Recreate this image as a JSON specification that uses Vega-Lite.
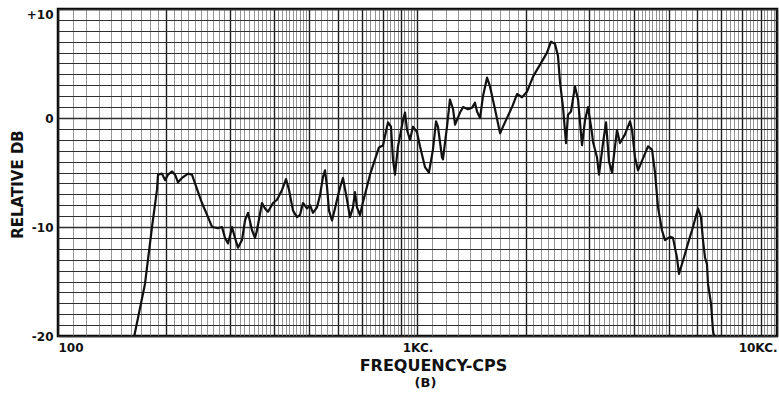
{
  "$schema": "https://vega.github.io/schema/vega-lite/v6.json",
  "width": 719,
  "height": 327,
  "autosize": {"type": "none"},
  "padding": {"left": 58, "top": 9, "right": 2, "bottom": 58},
  "background": "white",
  "config": {"view": {"stroke": "#000", "strokeWidth": 2.5}, "font": "DejaVu Sans"},
  "title": {"text": "(B)", "orient": "bottom", "anchor": "middle", "fontSize": 13, "fontWeight": "bold", "font": "DejaVu Sans", "color": "#111", "dx": 8, "offset": 4},
  "data": {"values": [
    {"f": 163, "db": -20}, {"f": 174.6, "db": -15.2}, {"f": 182.6, "db": -10.0}, {"f": 188.5, "db": -6.6},
    {"f": 189.8, "db": -5.2}, {"f": 194.7, "db": -5.1}, {"f": 198.5, "db": -5.7}, {"f": 202.3, "db": -5.2},
    {"f": 207.6, "db": -4.9}, {"f": 211.6, "db": -5.2}, {"f": 215.7, "db": -5.9}, {"f": 221.3, "db": -5.5},
    {"f": 230.0, "db": -5.1}, {"f": 235.9, "db": -5.2}, {"f": 240.5, "db": -6.0}, {"f": 251.5, "db": -7.8},
    {"f": 261.4, "db": -9.1}, {"f": 268.2, "db": -10.0}, {"f": 278.7, "db": -10.1}, {"f": 285.9, "db": -10.0},
    {"f": 291.4, "db": -11.0}, {"f": 297.1, "db": -11.5}, {"f": 300.9, "db": -10.8}, {"f": 304.8, "db": -10.0},
    {"f": 310.7, "db": -11.0}, {"f": 316.7, "db": -11.9}, {"f": 324.9, "db": -11.2}, {"f": 331.3, "db": -9.4},
    {"f": 337.7, "db": -8.7}, {"f": 346.5, "db": -10.3}, {"f": 353.2, "db": -11.0}, {"f": 357.7, "db": -10.3},
    {"f": 369.4, "db": -7.8}, {"f": 376.6, "db": -8.3}, {"f": 383.8, "db": -8.6}, {"f": 396.3, "db": -7.8},
    {"f": 406.6, "db": -7.5}, {"f": 419.9, "db": -6.6}, {"f": 430.8, "db": -5.6}, {"f": 439.2, "db": -6.6},
    {"f": 450.5, "db": -8.5}, {"f": 462.2, "db": -9.1}, {"f": 471.2, "db": -8.9}, {"f": 480.3, "db": -7.8},
    {"f": 492.7, "db": -8.3}, {"f": 502.3, "db": -8.0}, {"f": 512.0, "db": -8.7}, {"f": 525.3, "db": -8.2},
    {"f": 535.5, "db": -7.1}, {"f": 545.9, "db": -5.4}, {"f": 553.0, "db": -4.8}, {"f": 560.1, "db": -6.3},
    {"f": 567.3, "db": -8.5}, {"f": 578.3, "db": -9.4}, {"f": 589.5, "db": -8.3}, {"f": 597.1, "db": -7.5},
    {"f": 608.7, "db": -6.4}, {"f": 620.5, "db": -5.5}, {"f": 636.6, "db": -7.5}, {"f": 648.9, "db": -9.1},
    {"f": 661.5, "db": -8.2}, {"f": 670.0, "db": -6.8}, {"f": 678.7, "db": -8.2}, {"f": 691.9, "db": -8.9},
    {"f": 705.3, "db": -7.7}, {"f": 723.6, "db": -6.3}, {"f": 737.7, "db": -5.2}, {"f": 761.7, "db": -3.8},
    {"f": 781.4, "db": -2.7}, {"f": 801.7, "db": -2.5}, {"f": 827.8, "db": -0.4}, {"f": 843.8, "db": -0.8},
    {"f": 854.7, "db": -3.8}, {"f": 865.7, "db": -5.2}, {"f": 882.6, "db": -2.6}, {"f": 911.3, "db": -0.2},
    {"f": 923.2, "db": 0.5}, {"f": 935.0, "db": -1.1}, {"f": 953.1, "db": -2.0}, {"f": 971.6, "db": -0.8},
    {"f": 996.8, "db": -1.3}, {"f": 1016, "db": -2.6}, {"f": 1049, "db": -4.5}, {"f": 1076, "db": -5.0},
    {"f": 1104, "db": -2.9}, {"f": 1126, "db": -0.3}, {"f": 1140, "db": -0.8}, {"f": 1170, "db": -3.6},
    {"f": 1177, "db": -3.8}, {"f": 1208, "db": -0.8}, {"f": 1231, "db": 1.7}, {"f": 1256, "db": 0.8},
    {"f": 1272, "db": -0.6}, {"f": 1313, "db": 0.5}, {"f": 1339, "db": 1.0}, {"f": 1382, "db": 0.8},
    {"f": 1418, "db": 0.95}, {"f": 1445, "db": 1.4}, {"f": 1464, "db": 0.6}, {"f": 1493, "db": 0.0},
    {"f": 1521, "db": 2.0}, {"f": 1561, "db": 3.7}, {"f": 1591, "db": 2.9}, {"f": 1643, "db": 0.8},
    {"f": 1697, "db": -1.4}, {"f": 1751, "db": -0.4}, {"f": 1832, "db": 1.0}, {"f": 1892, "db": 2.2},
    {"f": 1953, "db": 1.9}, {"f": 2016, "db": 2.4}, {"f": 2096, "db": 3.8}, {"f": 2192, "db": 4.9},
    {"f": 2292, "db": 6.0}, {"f": 2351, "db": 7.0}, {"f": 2412, "db": 6.8}, {"f": 2459, "db": 5.7},
    {"f": 2491, "db": 3.3}, {"f": 2539, "db": 1.0}, {"f": 2589, "db": -2.3}, {"f": 2622, "db": 0.3},
    {"f": 2673, "db": 0.6}, {"f": 2742, "db": 2.9}, {"f": 2796, "db": 1.7}, {"f": 2868, "db": -2.5},
    {"f": 2924, "db": -0.2}, {"f": 2981, "db": 1.0}, {"f": 3058, "db": -1.4}, {"f": 3078, "db": -2.2},
    {"f": 3157, "db": -3.6}, {"f": 3198, "db": -5.2}, {"f": 3281, "db": -2.3}, {"f": 3345, "db": -0.4},
    {"f": 3410, "db": -4.0}, {"f": 3475, "db": -5.0}, {"f": 3543, "db": -2.6}, {"f": 3589, "db": -1.1},
    {"f": 3658, "db": -2.3}, {"f": 3777, "db": -1.5}, {"f": 3900, "db": -0.3}, {"f": 3951, "db": -1.1},
    {"f": 4027, "db": -3.6}, {"f": 4106, "db": -4.8}, {"f": 4239, "db": -3.7}, {"f": 4377, "db": -2.6},
    {"f": 4491, "db": -2.9}, {"f": 4578, "db": -5.0}, {"f": 4667, "db": -8.2}, {"f": 4787, "db": -10.3},
    {"f": 4880, "db": -11.2}, {"f": 5039, "db": -10.9}, {"f": 5136, "db": -11.0}, {"f": 5269, "db": -12.8},
    {"f": 5338, "db": -14.3}, {"f": 5476, "db": -13.1}, {"f": 5655, "db": -11.5}, {"f": 5839, "db": -10.0},
    {"f": 6029, "db": -8.3}, {"f": 6145, "db": -9.1}, {"f": 6225, "db": -11.2}, {"f": 6305, "db": -12.8},
    {"f": 6386, "db": -13.4}, {"f": 6427, "db": -15.2}, {"f": 6552, "db": -17.0}, {"f": 6637, "db": -19.5},
    {"f": 6679, "db": -20}
  ]},
  "mark": {"type": "line", "color": "#111", "strokeWidth": 2.2, "strokeJoin": "round"},
  "encoding": {
    "x": {
      "field": "f", "type": "quantitative",
      "scale": {"type": "log", "domain": [100, 10000], "nice": false},
      "axis": {
        "values": [100,110,120,130,140,150,160,170,180,190,200,210,220,230,240,250,260,270,280,290,300,310,320,330,340,350,360,370,380,390,400,410,420,430,440,450,460,470,480,490,500,520,540,560,580,600,620,640,660,680,700,720,740,760,780,800,820,840,860,880,900,920,940,960,980,
                   1000,1100,1200,1300,1400,1500,1600,1700,1800,1900,2000,2100,2200,2300,2400,2500,2600,2700,2800,2900,3000,3100,3200,3300,3400,3500,3600,3700,3800,3900,4000,4100,4200,4300,4400,4500,4600,4700,4800,4900,5000,5200,5400,5600,5800,6000,6200,6400,6600,6800,7000,7200,7400,7600,7800,8000,8200,8400,8600,8800,9000,9200,9400,9600,9800,10000],
        "labelExpr": "datum.value == 100 ? '100' : datum.value == 1000 ? '1KC.' : datum.value == 10000 ? '10KC.' : ''",
        "labelOverlap": false,
        "labelFlush": true,
        "labelBound": false,
        "labelFontSize": 12,
        "labelFontWeight": "bold",
        "labelColor": "#111",
        "labelPadding": 6,
        "ticks": false,
        "domain": false,
        "grid": true,
        "gridColor": {"condition": {"test": "datum.value % pow(10, floor(log(datum.value) / LN10 + 1e-9)) == 0", "value": "#1e1e1e"}, "value": "#7a7a7a"},
        "gridWidth": {"condition": {"test": "datum.value % pow(10, floor(log(datum.value) / LN10 + 1e-9)) == 0", "value": 1.4}, "value": 0.8},
        "gridOpacity": 1,
        "title": "FREQUENCY-CPS",
        "titleFontSize": 16,
        "titleFontWeight": "bold",
        "titleColor": "#111",
        "titleX": 375,
        "titleY": 21,
        "titleAnchor": "middle"
      }
    },
    "y": {
      "field": "db", "type": "quantitative",
      "scale": {"domain": [-20, 10], "nice": false, "zero": false},
      "axis": {
        "values": [-20,-19,-18,-17,-16,-15,-14,-13,-12,-11,-10,-9,-8,-7,-6,-5,-4,-3,-2,-1,0,1,2,3,4,5,6,7,8,9,10],
        "labelExpr": "datum.value % 10 != 0 ? '' : (datum.value > 0 ? '+' + datum.value : '' + datum.value)",
        "labelOverlap": false,
        "labelBound": false,
        "labelBaseline": {"condition": {"test": "datum.value == 10", "value": "top"}, "value": "middle"},
        "labelFontSize": 12,
        "labelFontWeight": "bold",
        "labelColor": "#111",
        "labelPadding": 5,
        "ticks": false,
        "domain": false,
        "grid": true,
        "gridColor": "#2e2e2e",
        "gridWidth": {"condition": {"test": "datum.value % 10 == 0", "value": 1.6}, "value": 1.0},
        "gridOpacity": 1,
        "title": "RELATIVE DB",
        "titleFontSize": 15,
        "titleFontWeight": "bold",
        "titleColor": "#111",
        "titleX": -33,
        "titleY": 175
      }
    }
  }
}
